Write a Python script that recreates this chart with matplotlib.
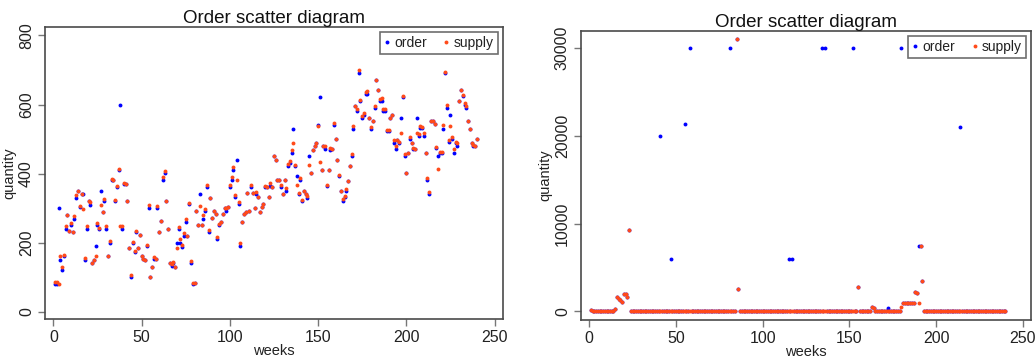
import numpy as np
import matplotlib
matplotlib.use("Agg")
import matplotlib.pyplot as plt

plt.rcParams["font.family"] = ["Liberation Sans", "DejaVu Sans"]

weeks = list(range(1, 241))

# left panel: weekly order / supply quantities
order_left = [
    80, 80, 300, 150, 120, 160, 240, 280, 233, 250,
    232, 270, 330, 350, 302, 340, 340, 150, 240, 320,
    310, 140, 150, 190, 250, 240, 350, 290, 322, 240,
    162, 200, 382, 382, 322, 360, 411, 600, 240, 370,
    370, 320, 184, 100, 200, 172, 232, 184, 221, 162,
    152, 151, 190, 300, 102, 130, 152, 152, 300, 232,
    262, 382, 401, 322, 240, 140, 132, 140, 130, 200,
    240, 200, 188, 220, 259, 220, 311, 140, 80, 82,
    292, 252, 340, 252, 270, 292, 362, 230, 330, 272,
    292, 282, 211, 250, 261, 282, 299, 292, 303, 361,
    382, 411, 333, 440, 311, 190, 261, 282, 290, 343,
    292, 361, 343, 300, 341, 331, 290, 303, 312, 361,
    361, 331, 363, 361, 450, 440, 382, 382, 361, 340,
    382, 351, 421, 432, 461, 530, 421, 392, 340, 382,
    321, 351, 340, 330, 450, 401, 469, 479, 488, 540,
    621, 411, 479, 471, 363, 411, 469, 472, 540, 500,
    440, 392, 351, 322, 331, 351, 380, 421, 450, 530,
    595, 582, 690, 609, 561, 571, 630, 630, 561, 530,
    551, 590, 670, 641, 611, 611, 582, 582, 522, 522,
    561, 571, 490, 472, 498, 490, 561, 622, 452, 401,
    459, 500, 490, 472, 472, 560, 510, 532, 532, 510,
    461, 382, 340, 551, 551, 544, 474, 452, 459, 459,
    530, 690, 590, 493, 571, 500, 459, 490, 481, 611,
    641, 624, 600, 590, 551, 530, 490, 481, 481, 500,
]
supply_left = [
    85, 85, 80, 160, 130, 165, 248, 280, 235, 258,
    232, 277, 337, 350, 305, 340, 297, 155, 248, 320,
    317, 140, 150, 160, 256, 243, 308, 290, 326, 247,
    162, 206, 385, 382, 325, 365, 413, 247, 247, 374,
    370, 320, 184, 106, 203, 177, 234, 184, 221, 162,
    154, 151, 193, 308, 102, 130, 158, 152, 305, 232,
    264, 390, 409, 322, 240, 140, 138, 145, 130, 184,
    245, 210, 193, 227, 268, 220, 316, 148, 84, 84,
    292, 252, 305, 252, 280, 297, 367, 236, 330, 272,
    292, 282, 216, 255, 261, 282, 299, 299, 303, 368,
    389, 418, 338, 382, 317, 198, 261, 282, 290, 343,
    292, 368, 343, 300, 348, 331, 290, 303, 312, 363,
    361, 331, 374, 361, 450, 440, 382, 382, 366, 340,
    382, 358, 428, 437, 467, 490, 426, 367, 345, 387,
    324, 351, 340, 336, 426, 401, 469, 479, 488, 539,
    433, 411, 479, 479, 367, 411, 474, 472, 548, 500,
    440, 397, 351, 326, 336, 355, 380, 421, 458, 537,
    597, 588, 699, 614, 566, 575, 636, 638, 561, 534,
    551, 597, 670, 641, 617, 619, 588, 588, 525, 525,
    561, 571, 498, 479, 498, 493, 519, 624, 457, 401,
    459, 505, 490, 474, 472, 517, 514, 537, 535, 519,
    461, 387, 346, 553, 551, 544, 476, 414, 464, 464,
    540, 693, 600, 498, 537, 505, 471, 493, 488, 611,
    641, 629, 605, 595, 551, 530, 490, 482, 481, 500,
]

# right panel: second item with a few huge orders
order_right = [
    200, 0, 0, 0, 0, 0, 0, 0, 0, 0,
    0, 0, 0, 0, 300, 1670, 1440, 1330, 1100, 1970,
    2010, 1590, 9300, 0, 0, 0, 0, 0, 0, 0,
    0, 0, 0, 0, 0, 0, 0, 0, 0, 0,
    20000, 0, 0, 0, 0, 0, 6000, 0, 0, 0,
    0, 0, 0, 0, 21300, 0, 0, 30000, 0, 0,
    0, 0, 0, 0, 0, 0, 0, 0, 0, 0,
    0, 0, 0, 0, 0, 0, 0, 0, 0, 0,
    30000, 0, 0, 0, 31000, 2540, 0, 0, 0, 0,
    0, 0, 0, 0, 0, 0, 0, 0, 0, 0,
    0, 0, 0, 0, 0, 0, 0, 0, 0, 0,
    0, 0, 0, 0, 6000, 0, 6000, 0, 0, 0,
    0, 0, 0, 0, 0, 0, 0, 0, 0, 0,
    0, 0, 0, 30000, 0, 30000, 0, 0, 0, 0,
    0, 0, 0, 0, 0, 0, 0, 0, 0, 0,
    0, 30000, 0, 0, 2800, 0, 0, 0, 0, 0,
    0, 0, 450, 420, 0, 0, 0, 0, 0, 0,
    0, 380, 0, 0, 0, 0, 0, 0, 0, 30000,
    1000, 1000, 1000, 1000, 1000, 1000, 1000, 2200, 2100, 7500,
    7500, 3420, 0, 0, 0, 0, 0, 0, 0, 0,
    0, 0, 0, 0, 0, 0, 0, 0, 0, 0,
    0, 0, 0, 21000, 0, 0, 0, 0, 0, 0,
    0, 0, 0, 0, 0, 0, 0, 0, 0, 0,
    0, 0, 0, 0, 0, 0, 0, 0, 0, 0,
]
supply_right = [
    200, 0, 0, 0, 0, 0, 0, 0, 0, 0,
    0, 0, 0, 0, 300, 1670, 1440, 1330, 1100, 1970,
    2010, 1590, 9300, 0, 0, 0, 0, 0, 0, 0,
    0, 0, 0, 0, 0, 0, 0, 0, 0, 0,
    0, 0, 0, 0, 0, 0, 0, 0, 0, 0,
    0, 0, 0, 0, 0, 0, 0, 0, 0, 0,
    0, 0, 0, 0, 0, 0, 0, 0, 0, 0,
    0, 0, 0, 0, 0, 0, 0, 0, 0, 0,
    0, 0, 0, 0, 31000, 2540, 0, 0, 0, 0,
    0, 0, 0, 0, 0, 0, 0, 0, 0, 0,
    0, 0, 0, 0, 0, 0, 0, 0, 0, 0,
    0, 0, 0, 0, 0, 0, 0, 0, 0, 0,
    0, 0, 0, 0, 0, 0, 0, 0, 0, 0,
    0, 0, 0, 0, 0, 0, 0, 0, 0, 0,
    0, 0, 0, 0, 0, 0, 0, 0, 0, 0,
    0, 0, 0, 0, 2800, 0, 0, 0, 0, 0,
    0, 0, 450, 420, 0, 0, 0, 0, 0, 0,
    0, 0, 0, 0, 0, 0, 0, 0, 0, 460,
    1000, 1000, 1000, 1000, 1000, 1000, 1000, 2200, 2100, 910,
    7500, 3420, 0, 0, 0, 0, 0, 0, 0, 0,
    0, 0, 0, 0, 0, 0, 0, 0, 0, 0,
    0, 0, 0, 0, 0, 0, 0, 0, 0, 0,
    0, 0, 0, 0, 0, 0, 0, 0, 0, 0,
    0, 0, 0, 0, 0, 0, 0, 0, 0, 0,
]

x_ticks = [0, 50, 100, 150, 200, 250]
left_yticks = [0, 200, 400, 600, 800]
right_yticks = [0, 10000, 20000, 30000]

BLUE = "#0000ff"
ORANGE = "#ff4a1a"
EDGE = "#4a4a4a"


def draw_panel(ax, order, supply, yticks, ylim):
    ax.plot(weeks, order, "o", color=BLUE, markersize=2.8, markeredgewidth=0, label="order")
    ax.plot(weeks, supply, "o", color=ORANGE, markersize=2.8, markeredgewidth=0, label="supply")
    ax.set_xlim(-4.7, 254.8)
    ax.set_ylim(*ylim)
    ax.set_xticks(x_ticks)
    ax.set_yticks(yticks)
    ax.set_yticklabels([str(v) for v in yticks], rotation=90, va="center")
    ax.tick_params(direction="out", length=5, width=1, color="#777777",
                   labelsize=11.5, labelcolor="#222222", pad=3)
    for s in ax.spines.values():
        s.set_color(EDGE)
        s.set_linewidth(1.2)
    ax.set_title("Order scatter diagram", fontsize=13.5, color="#111111", pad=3)
    ax.set_xlabel("weeks", fontsize=10.5, color="#222222", labelpad=-1)
    ax.set_ylabel("quantity", fontsize=10.5, color="#222222", labelpad=2)
    leg = ax.legend(loc="upper right", ncol=2, fontsize=10, frameon=True, fancybox=False,
                    markerscale=1.0, handlelength=0.4, handletextpad=0.35, columnspacing=1.2,
                    borderpad=0.3, borderaxespad=0.35)
    leg.get_frame().set_edgecolor(EDGE)
    leg.get_frame().set_linewidth(1.2)
    for t in leg.get_texts():
        t.set_color("#222222")


fig = plt.figure(figsize=(10.35, 3.58), dpi=100)
ax1 = fig.add_axes([0.0435, 0.108, 0.4425, 0.816])
ax2 = fig.add_axes([0.5614, 0.106, 0.4349, 0.807])

draw_panel(ax1, order_left, supply_left, left_yticks, (-22, 824))
draw_panel(ax2, order_right, supply_right, right_yticks, (-986, 31900))

fig.savefig("out.png", dpi=100)
